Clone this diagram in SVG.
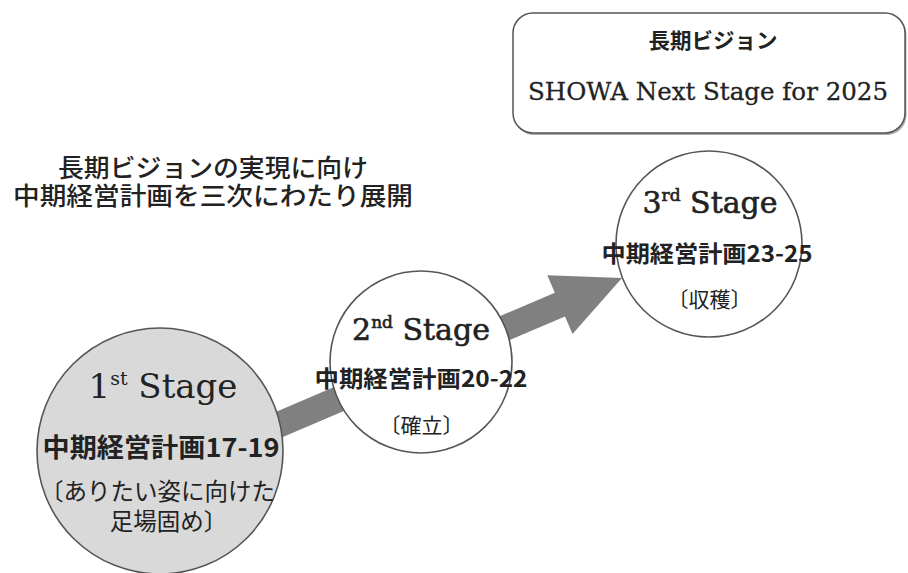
<svg xmlns="http://www.w3.org/2000/svg" width="908" height="573" viewBox="0 0 908 573">
<style>
.jp{font-family:"Noto Sans CJK JP","Noto Sans CJK SC",sans-serif;fill:#222;}
.b{font-weight:bold;}
.sr{font-family:"DejaVu Serif","Liberation Serif",serif;fill:#222;}
.circ{stroke:#555;stroke-width:1.6;}
</style>
<rect width="908" height="573" fill="#fff"/>
<g id="connectors">
<polygon points="249.3,423.3 554.8,292.7 547.3,275.2 622,278 572.5,334 565,316.5 259.5,447.1" fill="#808080"/>
</g>
<g id="vision">
<rect x="514.5" y="15" width="392" height="120" rx="20" fill="#aaa"/>
<rect x="513" y="13" width="392" height="120" rx="20" fill="#fff" stroke="#555" stroke-width="1.5"/>
<text class="jp b" x="713" y="48" font-size="21" text-anchor="middle" textLength="129" lengthAdjust="spacingAndGlyphs">長期ビジョン</text>
<text class="sr" x="708" y="100" font-size="24.5" text-anchor="middle" textLength="360" lengthAdjust="spacingAndGlyphs" stroke="#222" stroke-width="0.3">SHOWA Next Stage for 2025</text>
</g>
<g id="intro">
<text class="jp" x="213" y="177" font-size="25" font-weight="500" text-anchor="middle" textLength="310" lengthAdjust="spacingAndGlyphs">長期ビジョンの実現に向け</text>
<text class="jp" x="213" y="205" font-size="25" font-weight="500" text-anchor="middle" textLength="400" lengthAdjust="spacingAndGlyphs">中期経営計画を三次にわたり展開</text>
</g>
<g id="stage1">
<circle class="circ" cx="160" cy="451" r="123" fill="#d9d9d9"/>
<text class="sr" x="163" y="398" font-size="34" text-anchor="middle">1<tspan font-size="19" dy="-13">st</tspan><tspan dy="13"> Stage</tspan></text>
<text class="jp b" x="161" y="457" font-size="26" text-anchor="middle" textLength="237" lengthAdjust="spacingAndGlyphs">中期経営計画17-19</text>
<text class="jp" x="157.5" y="500" font-size="23.5" text-anchor="middle">〔ありたい姿に向けた</text>
<text class="jp" x="168.5" y="530" font-size="23.5" text-anchor="middle">足場固め〕</text>
</g>
<g id="stage2">
<circle class="circ" cx="421" cy="362" r="91" fill="#fff"/>
<text class="sr" x="421" y="340" font-size="30" text-anchor="middle" stroke="#222" stroke-width="0.6">2<tspan font-size="17" dy="-12">nd</tspan><tspan dy="12"> Stage</tspan></text>
<text class="jp b" x="421" y="387" font-size="23" text-anchor="middle" textLength="213" lengthAdjust="spacingAndGlyphs">中期経営計画20-22</text>
<text class="jp" x="421.5" y="433" font-size="21" text-anchor="middle">〔確立〕</text>
</g>
<g id="stage3">
<circle class="circ" cx="709" cy="244" r="93" fill="#fff"/>
<text class="sr" x="710" y="213" font-size="30" text-anchor="middle" stroke="#222" stroke-width="0.6">3<tspan font-size="17" dy="-12">rd</tspan><tspan dy="12"> Stage</tspan></text>
<text class="jp b" x="707" y="262" font-size="23" text-anchor="middle" textLength="211" lengthAdjust="spacingAndGlyphs">中期経営計画23-25</text>
<text class="jp" x="709.5" y="307" font-size="21" text-anchor="middle">〔収穫〕</text>
</g>
</svg>
